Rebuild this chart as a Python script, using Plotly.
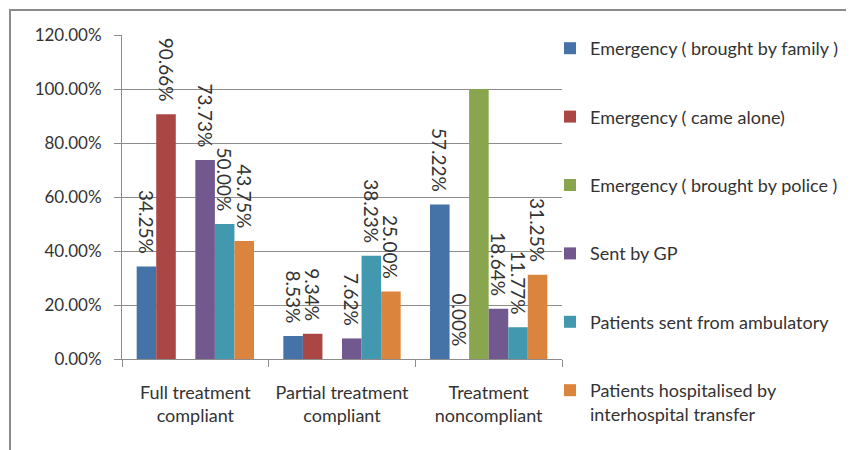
import plotly.graph_objects as go

categories = ["Full treatment<br>compliant", "Partial treatment<br>compliant", "Treatment<br>noncompliant"]
series_names = [
    "Emergency ( brought by family )",
    "Emergency ( came alone)",
    "Emergency ( brought by police )",
    "Sent by GP",
    "Patients sent from ambulatory",
    "Patients hospitalised by<br>interhospital transfer",
]
family = [34.25, 8.53, 57.22]
alone = [90.66, 9.34, 0.00]
police = [None, None, 100.0]
gp = [73.73, 7.62, 18.64]
ambulatory = [50.00, 38.23, 11.77]
transfer = [43.75, 25.00, 31.25]
show_labels = [True, True, False, True, True, True]

colors = ["#4572A7", "#AA4643", "#89A54E", "#71588F", "#4198AF", "#DB843D"]
series_values = [family, alone, police, gp, ambulatory, transfer]

FONT = "Lato"
W, H = 846, 442  # page body has an 8px margin
L, T = 114, 27
PW, PH = 440, 324
R = W - L - PW
B = H - T - PH

fig = go.Figure()
for i, (name, vals) in enumerate(zip(series_names, series_values)):
    if show_labels[i]:
        txt = [("" if v is None else f"{v:.2f}%\u00a0\u00a0") for v in vals]
    else:
        txt = ["" for v in vals]
    fig.add_trace(go.Bar(
        x=categories, y=vals, name=name,
        marker=dict(color=colors[i], line=dict(width=0)),
        text=txt, textposition="outside", textangle=90,
        constraintext="none", cliponaxis=False,
        textfont=dict(family=FONT, size=19, color="#333333"),
        legendgroup=f"g{i}",
    ))

fig.update_layout(
    width=W, height=H,
    margin=dict(l=L, r=R, t=T, b=B, autoexpand=False),
    paper_bgcolor="white", plot_bgcolor="white",
    barmode="group", bargap=0.2, bargroupgap=0,
    font=dict(family=FONT, size=17, color="#333333"),
    showlegend=True,
    legend=dict(
        x=(542 - L) / PW, y=(T + PH - 22) / PH, xanchor="left", yanchor="top",
        font=dict(family=FONT, size=18, color="#333333"),
        tracegroupgap=42, valign="top", itemwidth=30,
        bgcolor="rgba(0,0,0,0)", maxheight=440,
    ),
    xaxis=dict(
        showline=True, linecolor="#8c8c8c", linewidth=1,
        ticks="outside", tickson="boundaries", ticklen=7, tickcolor="#8c8c8c",
        tickfont=dict(family=FONT, size=18, color="#333333"),
        ticklabelstandoff=17,
        showgrid=False, fixedrange=True,
    ),
    yaxis=dict(
        range=[0, 120], dtick=20, tickformat=".2f", ticksuffix="%",
        showgrid=True, gridcolor="#8c8c8c", gridwidth=1,
        showline=True, linecolor="#8c8c8c", linewidth=1,
        ticks="outside", ticklen=7, tickcolor="#8c8c8c",
        tickfont=dict(family=FONT, size=17, color="#333333"),
        ticklabelstandoff=9,
        zeroline=False, fixedrange=True,
    ),
    shapes=[dict(
        type="rect", xref="paper", yref="paper",
        x0=(2 - L) / PW, x1=(870 - L) / PW,
        y0=-0.6, y1=(T + PH - 2) / PH,
        line=dict(color="#8c8c8c", width=2), fillcolor="rgba(0,0,0,0)",
        layer="below",
    )],
)

fig.write_html("out.html")
